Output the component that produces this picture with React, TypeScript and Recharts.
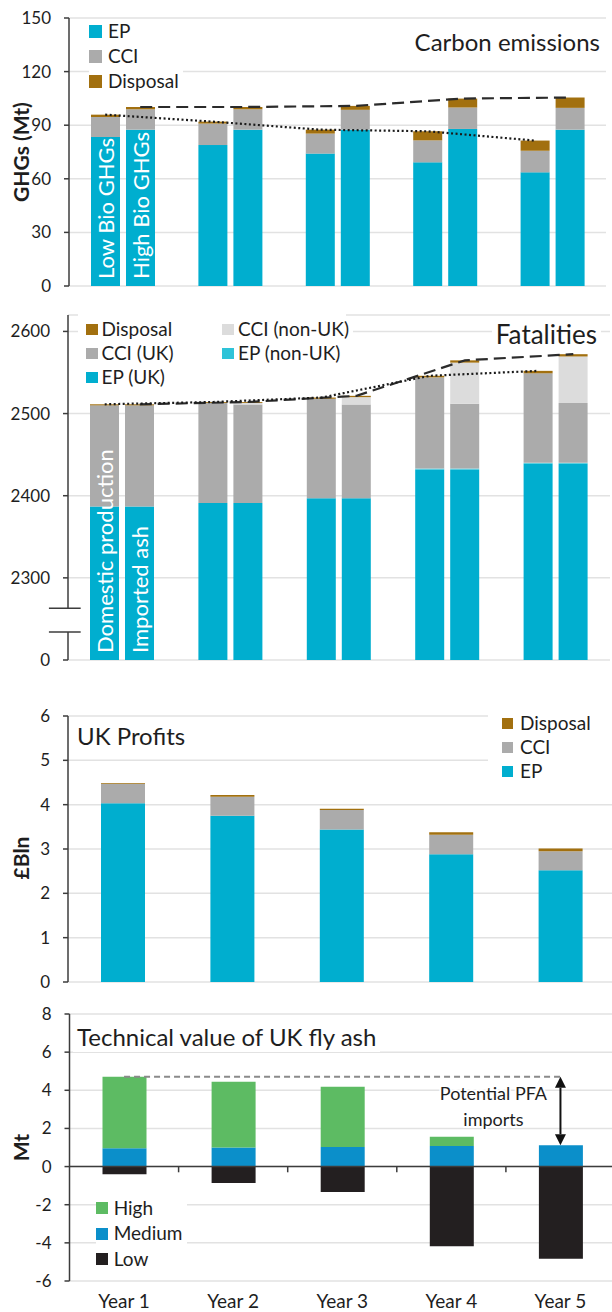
import React from 'react';
import { ComposedChart, Bar, Line, XAxis, YAxis, CartesianGrid, ReferenceLine, LabelList } from 'recharts';

const years = ['Year 1', 'Year 2', 'Year 3', 'Year 4', 'Year 5'];
const yearBounds = [0, 1, 2, 3, 4, 5];

// Carbon emissions (Mt) - low / high bio GHG scenarios
const ghgTicks = [0, 30, 60, 90, 120, 150];
const ghgLowEp = [83.4, 78.9, 74.1, 69.2, 63.6];
const ghgLowCci = [11.2, 12.0, 11.2, 12.3, 12.1];
const ghgLowDisposal = [1.3, 1.1, 2.2, 5.1, 5.7];
const ghgHighEp = [87.5, 87.5, 87.5, 87.9, 87.5];
const ghgHighCci = [11.4, 11.4, 11.1, 12.0, 12.2];
const ghgHighDisposal = [1.3, 1.3, 2.2, 5.0, 5.8];

// Fatalities - domestic production / imported ash
const fatTicks = [2200, 2300, 2400, 2500, 2600];
const fatBreak = [2234, 2263];
const fatDomEpUk = [2387, 2391, 2397, 2432, 2439];
const fatDomEpNon = [0, 0, 0, 1, 1];
const fatDomCciUk = [123, 122, 121, 111, 109];
const fatDomCciNon = [0, 0, 0, 0, 0];
const fatDomDisposal = [1.3, 1.1, 1.5, 2, 3];
const fatImpEpUk = [2387, 2391, 2397, 2432, 2439];
const fatImpEpNon = [0, 0, 0, 1, 1];
const fatImpCciUk = [123, 120, 114, 79, 73];
const fatImpCciNon = [0, 2, 9, 50, 56.5];
const fatImpDisposal = [1.3, 1.1, 1.6, 2.8, 2.8];

// UK profits (£Bln)
const profitTicks = [0, 1, 2, 3, 4, 5, 6];
const profitEp = [4.03, 3.75, 3.44, 2.88, 2.52];
const profitCci = [0.44, 0.43, 0.44, 0.44, 0.43];
const profitDisposal = [0.02, 0.04, 0.03, 0.06, 0.06];

// Technical value of UK fly ash (Mt)
const ashTicks = [-6, -4, -2, 0, 2, 4, 6, 8];
const ashHigh = [3.75, 3.45, 3.15, 0.48, 0];
const ashMedium = [0.96, 1.0, 1.03, 1.08, 1.12];
const ashLow = [-0.4, -0.86, -1.33, -4.18, -4.83];

const C = {
  ep: '#00aecf',
  epNon: '#2ec3d8',
  cci: '#ababab',
  cciNon: '#dcdcdc',
  disposal: '#a2700f',
  high: '#5dbb63',
  medium: '#0b8fca',
  low: '#231f20',
  grid: '#e2e2e2',
  axis: '#3c3c3c',
  text: '#1e1e1e',
};

const FONT = 'Lato, "Open Sans", sans-serif';

const sum = (...arrs: number[][]) => years.map((_, i) => arrs.reduce((s, a) => s + a[i], 0));

const ghgData = years.map((year, i) => ({
  year,
  lowEp: ghgLowEp[i], lowCci: ghgLowCci[i], lowDisposal: ghgLowDisposal[i],
  highEp: ghgHighEp[i], highCci: ghgHighCci[i], highDisposal: ghgHighDisposal[i],
}));

const fatData = years.map((year, i) => ({
  year,
  dEpUk: fatDomEpUk[i], dEpNon: fatDomEpNon[i], dCciUk: fatDomCciUk[i], dCciNon: fatDomCciNon[i], dDisposal: fatDomDisposal[i],
  iEpUk: fatImpEpUk[i], iEpNon: fatImpEpNon[i], iCciUk: fatImpCciUk[i], iCciNon: fatImpCciNon[i], iDisposal: fatImpDisposal[i],
}));

const profitData = years.map((year, i) => ({ year, ep: profitEp[i], cci: profitCci[i], disposal: profitDisposal[i] }));
const ashData = years.map((year, i) => ({ year, high: ashHigh[i], medium: ashMedium[i], low: ashLow[i] }));

// paired bars: shift of each bar centre from the category centre, in category units
const PAIR_BAR = 29;
const PAIR_GAP = 6;
const pairShift = (plotWidth: number) => (PAIR_BAR + PAIR_GAP) / 2 / (plotWidth / 5);

const linePts = (totals: number[], shift: number) => totals.map((v, i) => ({ x: i + 0.5 + shift, v }));

const ghgShift = pairShift(612 - 6 - 69);
const ghgLowLine = linePts(sum(ghgLowEp, ghgLowCci, ghgLowDisposal), -ghgShift);
const ghgHighLine = linePts(sum(ghgHighEp, ghgHighCci, ghgHighDisposal), ghgShift);

const fatShift = pairShift(612 - 2 - 68);
const fatDomLine = linePts(sum(fatDomEpUk, fatDomEpNon, fatDomCciUk, fatDomCciNon, fatDomDisposal), -fatShift);
const fatImpLine = linePts(sum(fatImpEpUk, fatImpEpNon, fatImpCciUk, fatImpCciNon, fatImpDisposal), fatShift);

const ashTotals = sum(ashHigh, ashMedium);
const ashPeak = ashTotals[0];

const tickStyle = { fontSize: 17, fill: C.text };
const yAxisCommon = {
  tickSize: 5,
  tickMargin: 13,
  tick: tickStyle,
  tickLine: { stroke: C.axis, strokeWidth: 1.5 },
  axisLine: { stroke: C.axis, strokeWidth: 1.5 },
};
const boundAxis = {
  xAxisId: 'num',
  dataKey: 'x',
  type: 'number' as const,
  domain: [0, 5],
  ticks: yearBounds,
  tick: false,
  tickSize: 6,
  tickLine: { stroke: C.axis, strokeWidth: 1.5 },
  axisLine: { stroke: C.axis, strokeWidth: 1.5 },
  height: 14,
  allowDataOverflow: true,
};

const yTitle = (value: string, dy = 0) => ({
  value,
  angle: -90,
  position: 'insideLeft',
  offset: 22,
  dy,
  style: { textAnchor: 'middle', fontWeight: 700, fontSize: 21, fill: C.text },
});

// white text written up the first bar, anchored at the bottom of the (clamped) bar
const innerLabel = (text: string) => (props: any) => {
  if (props.index !== 0) return null;
  const vb = props.viewBox || props;
  const { x, y, width, height } = vb;
  const cx = x + width / 2;
  const by = y + height - 7;
  return (
    <text x={cx} y={by} transform={`rotate(-90 ${cx} ${by})`} fill="#fff" fontSize={22} textAnchor="start" dominantBaseline="central">
      {text}
    </text>
  );
};

type Item = { label: string; color: string };

const Swatches = ({ items, left, top, rowH, sq, gap, fontSize = 19 }: any) => (
  <div style={{ position: 'absolute', left, top, background: '#fff', paddingRight: 4 }}>
    {items.map((it: Item) => (
      <div key={it.label} style={{ display: 'flex', alignItems: 'center', height: rowH, fontSize, lineHeight: 1.2, whiteSpace: 'nowrap' }}>
        <span style={{ display: 'inline-block', width: sq, height: sq, background: it.color, marginRight: gap }} />
        <span>{it.label}</span>
      </div>
    ))}
  </div>
);

const Title = ({ text, left, right, top, fontSize = 24 }: any) => (
  <div style={{ position: 'absolute', left, right, top, fontSize, lineHeight: 1.2, background: '#fff', padding: '0 4px', whiteSpace: 'nowrap' }}>
    {text}
  </div>
);

const panel = (height: number) => ({ position: 'relative' as const, width: 612, height, overflow: 'hidden' });

function CarbonPanel() {
  return (
    <div style={panel(300)}>
      <ComposedChart width={612} height={300} data={ghgData} margin={{ top: 18, right: 6, bottom: 0, left: 0 }} barGap={PAIR_GAP}>
        <CartesianGrid xAxisId="cat" vertical={false} stroke={C.grid} strokeWidth={1.5} />
        <XAxis xAxisId="cat" dataKey="year" hide />
        <XAxis {...boundAxis} />
        <YAxis domain={[0, 150]} ticks={ghgTicks} width={69} {...yAxisCommon} label={yTitle('GHGs (Mt)')} />
        <Bar xAxisId="cat" dataKey="lowEp" stackId="low" fill={C.ep} barSize={PAIR_BAR} isAnimationActive={false}>
          <LabelList content={innerLabel('Low Bio GHGs')} />
        </Bar>
        <Bar xAxisId="cat" dataKey="lowCci" stackId="low" fill={C.cci} barSize={PAIR_BAR} isAnimationActive={false} />
        <Bar xAxisId="cat" dataKey="lowDisposal" stackId="low" fill={C.disposal} barSize={PAIR_BAR} isAnimationActive={false} />
        <Bar xAxisId="cat" dataKey="highEp" stackId="high" fill={C.ep} barSize={PAIR_BAR} isAnimationActive={false}>
          <LabelList content={innerLabel('High Bio GHGs')} />
        </Bar>
        <Bar xAxisId="cat" dataKey="highCci" stackId="high" fill={C.cci} barSize={PAIR_BAR} isAnimationActive={false} />
        <Bar xAxisId="cat" dataKey="highDisposal" stackId="high" fill={C.disposal} barSize={PAIR_BAR} isAnimationActive={false} />
        <Line xAxisId="num" data={ghgHighLine} dataKey="v" type="linear" stroke="#2b2b2b" strokeWidth={2.2} strokeDasharray="12 6" dot={false} isAnimationActive={false} />
        <Line xAxisId="num" data={ghgLowLine} dataKey="v" type="linear" stroke="#1a1a1a" strokeWidth={2.2} strokeDasharray="2 2.5" dot={false} isAnimationActive={false} />
      </ComposedChart>
      <Swatches
        items={[{ label: 'EP', color: C.ep }, { label: 'CCI', color: C.cci }, { label: 'Disposal', color: C.disposal }]}
        left={89} top={19} rowH={25} sq={13} gap={6}
      />
      <Title text="Carbon emissions" right={8} top={27.5} />
    </div>
  );
}

function FatalityPanel() {
  const bar = (key: string, stack: string, fill: string) => (
    <Bar key={key} xAxisId="cat" dataKey={key} stackId={stack} fill={fill} barSize={PAIR_BAR} isAnimationActive={false} />
  );
  return (
    <div style={panel(374)}>
      <ComposedChart width={612} height={374} data={fatData} margin={{ top: 15, right: 2, bottom: 0, left: 0 }} barGap={PAIR_GAP}>
        <CartesianGrid xAxisId="cat" vertical={false} stroke={C.grid} strokeWidth={1.5} />
        <XAxis xAxisId="cat" dataKey="year" hide />
        <XAxis {...boundAxis} />
        <YAxis
          domain={[2200, 2620]}
          ticks={fatTicks}
          allowDataOverflow
          width={68}
          {...yAxisCommon}
          axisLine={false}
          tickFormatter={(v: number) => (v === fatTicks[0] ? '0' : String(v))}
        />
        <Bar xAxisId="cat" dataKey="dEpUk" stackId="d" fill={C.ep} barSize={PAIR_BAR} isAnimationActive={false}>
          <LabelList content={innerLabel('Domestic production')} />
        </Bar>
        {bar('dEpNon', 'd', C.epNon)}
        {bar('dCciUk', 'd', C.cci)}
        {bar('dCciNon', 'd', C.cciNon)}
        {bar('dDisposal', 'd', C.disposal)}
        <Bar xAxisId="cat" dataKey="iEpUk" stackId="i" fill={C.ep} barSize={PAIR_BAR} isAnimationActive={false}>
          <LabelList content={innerLabel('Imported ash')} />
        </Bar>
        {bar('iEpNon', 'i', C.epNon)}
        {bar('iCciUk', 'i', C.cci)}
        {bar('iCciNon', 'i', C.cciNon)}
        {bar('iDisposal', 'i', C.disposal)}
        {/* broken y axis */}
        <ReferenceLine xAxisId="num" segment={[{ x: 0, y: fatBreak[1] }, { x: 0, y: 2620 }]} stroke={C.axis} strokeWidth={1.5} ifOverflow="visible" />
        <ReferenceLine xAxisId="num" segment={[{ x: 0, y: fatTicks[0] }, { x: 0, y: fatBreak[0] }]} stroke={C.axis} strokeWidth={1.5} ifOverflow="visible" />
        {fatBreak.map((b) => (
          <ReferenceLine key={b} xAxisId="num" segment={[{ x: -0.176, y: b }, { x: 0.117, y: b }]} stroke={C.axis} strokeWidth={1.5} ifOverflow="visible" />
        ))}
        <Line xAxisId="num" data={fatImpLine} dataKey="v" type="linear" stroke="#2b2b2b" strokeWidth={2.2} strokeDasharray="12 6" dot={false} isAnimationActive={false} />
        <Line xAxisId="num" data={fatDomLine} dataKey="v" type="linear" stroke="#1a1a1a" strokeWidth={2.2} strokeDasharray="2 2.5" dot={false} isAnimationActive={false} />
      </ComposedChart>
      <div style={{ position: 'absolute', left: 78, top: 14, width: 268, height: 78, background: '#fff' }} />
      <Swatches
        items={[{ label: 'Disposal', color: C.disposal }, { label: 'CCI (UK)', color: C.cci }, { label: 'EP (UK)', color: C.ep }]}
        left={86} top={17.3} rowH={24} sq={11.5} gap={4}
      />
      <Swatches
        items={[{ label: 'CCI (non-UK)', color: C.cciNon }, { label: 'EP (non-UK)', color: C.epNon }]}
        left={222} top={17.3} rowH={24} sq={11.5} gap={4.6}
      />
      <Title text="Fatalities" right={11} top={19.3} fontSize={26} />
    </div>
  );
}

function ProfitPanel() {
  return (
    <div style={panel(322)}>
      <ComposedChart width={615} height={322} data={profitData} margin={{ top: 42, right: 0, bottom: 0, left: 0 }}>
        <CartesianGrid xAxisId="cat" vertical={false} stroke={C.grid} strokeWidth={1.5} />
        <XAxis xAxisId="cat" dataKey="year" hide />
        <XAxis {...boundAxis} />
        <YAxis domain={[0, 6]} ticks={profitTicks} width={68} {...yAxisCommon} label={yTitle('£Bln', 9)} />
        <Bar xAxisId="cat" dataKey="ep" stackId="p" fill={C.ep} barSize={44} isAnimationActive={false} />
        <Bar xAxisId="cat" dataKey="cci" stackId="p" fill={C.cci} barSize={44} isAnimationActive={false} />
        <Bar xAxisId="cat" dataKey="disposal" stackId="p" fill={C.disposal} barSize={44} isAnimationActive={false} />
      </ComposedChart>
      <div style={{ position: 'absolute', left: 488, top: 32, width: 124, height: 80, background: '#fff' }} />
      <Swatches
        items={[{ label: 'Disposal', color: C.disposal }, { label: 'CCI', color: C.cci }, { label: 'EP', color: C.ep }]}
        left={502} top={37.3} rowH={24.2} sq={11} gap={7}
      />
      <Title text="UK Profits" left={73} top={47.7} />
    </div>
  );
}

const ArrowShape = (props: any) => {
  const { x1, y1, y2 } = props;
  const top = Math.min(y1, y2);
  const bottom = Math.max(y1, y2);
  const head = 11;
  const half = 5.5;
  const mid = (top + bottom) / 2;
  const tx = x1 - 67;
  return (
    <g>
      <line x1={x1} y1={top + head} x2={x1} y2={bottom - head} stroke="#111" strokeWidth={2} />
      <polygon points={`${x1},${top} ${x1 - half},${top + head} ${x1 + half},${top + head}`} fill="#111" />
      <polygon points={`${x1},${bottom} ${x1 - half},${bottom - head} ${x1 + half},${bottom - head}`} fill="#111" />
      <g fontSize={18} fill={C.text} textAnchor="middle" stroke="#fff" strokeWidth={4} paintOrder="stroke" strokeLinejoin="round">
        <text x={tx} y={mid - 17.6} dominantBaseline="central">Potential PFA</text>
        <text x={tx} y={mid + 8.4} dominantBaseline="central">imports</text>
      </g>
    </g>
  );
};

function AshPanel() {
  return (
    <div style={panel(316)}>
      <ComposedChart width={615} height={316} data={ashData} margin={{ top: 18, right: 0, bottom: 0, left: 0 }} stackOffset="sign">
        <CartesianGrid xAxisId="cat" vertical={false} stroke={C.grid} strokeWidth={1.5} />
        <XAxis
          xAxisId="cat"
          dataKey="year"
          axisLine={false}
          tickLine={false}
          tickSize={6}
          tickMargin={8}
          height={31}
          tick={{ fontSize: 19, fill: C.text }}
        />
        <XAxis xAxisId="num" dataKey="x" type="number" domain={[0, 5]} hide allowDataOverflow />
        <YAxis domain={[-6, 8]} ticks={ashTicks} width={69.5} {...yAxisCommon} label={yTitle('Mt')} />
        <Bar xAxisId="cat" dataKey="low" stackId="a" fill={C.low} barSize={44} isAnimationActive={false} />
        <Bar xAxisId="cat" dataKey="medium" stackId="a" fill={C.medium} barSize={44} isAnimationActive={false} />
        <Bar xAxisId="cat" dataKey="high" stackId="a" fill={C.high} barSize={44} isAnimationActive={false} />
        <ReferenceLine xAxisId="cat" y={0} stroke={C.axis} strokeWidth={1.5} />
        {yearBounds.slice(1, 5).map((b) => (
          <ReferenceLine key={b} xAxisId="num" segment={[{ x: b, y: 0 }, { x: b, y: -0.3 }]} stroke={C.axis} strokeWidth={1.5} ifOverflow="visible" />
        ))}
        <ReferenceLine
          xAxisId="cat"
          segment={[{ x: years[0], y: ashPeak }, { x: years[4], y: ashPeak }]}
          stroke="#8a8a8a"
          strokeWidth={2}
          strokeDasharray="6 4"
          ifOverflow="visible"
        />
        <ReferenceLine
          xAxisId="cat"
          segment={[{ x: years[4], y: ashPeak }, { x: years[4], y: ashTotals[4] }]}
          shape={ArrowShape}
          ifOverflow="visible"
        />
      </ComposedChart>
      <Swatches
        items={[{ label: 'High', color: C.high }, { label: 'Medium', color: C.medium }, { label: 'Low', color: C.low }]}
        left={95.7} top={199.5} rowH={25.5} sq={12} gap={6}
      />
      <Title text="Technical value of UK fly ash" left={73} top={27.3} />
    </div>
  );
}

export default function App() {
  return (
    <div
      style={{
        position: 'absolute',
        left: 0,
        top: 0,
        width: 612,
        height: 1312,
        overflow: 'hidden',
        background: '#fff',
        fontFamily: FONT,
        color: C.text,
      }}
    >
      <CarbonPanel />
      <FatalityPanel />
      <ProfitPanel />
      <AshPanel />
    </div>
  );
}
